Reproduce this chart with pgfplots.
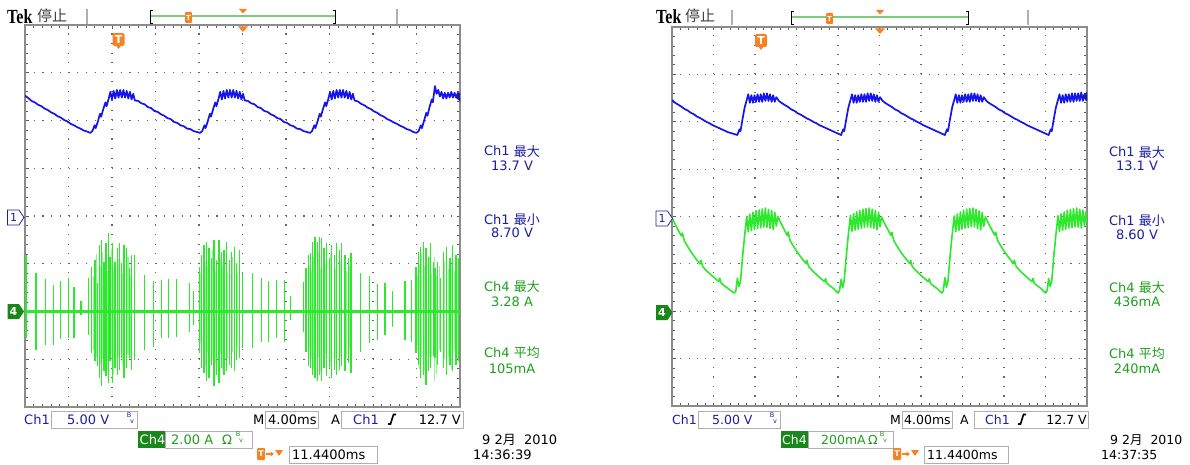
\documentclass[border=0pt]{standalone}
\usepackage{pgfplots}
\pgfplotsset{compat=1.18}
\usepackage{pgfplotstable}
\usepackage{graphicx}
\usepackage{fontspec}
\setmainfont{DejaVu Sans}
\newfontfamily\cjk{Noto Sans CJK SC}
\newfontfamily\tekfont{Liberation Serif}

\definecolor{labblue}{RGB}{30,30,160}
\definecolor{trblue}{RGB}{20,20,235}
\definecolor{trgreen}{RGB}{45,232,45}
\definecolor{ltgreen}{RGB}{150,242,150}
\definecolor{labgreen}{RGB}{30,160,30}
\definecolor{chfour}{RGB}{25,135,25}
\definecolor{tekorange}{RGB}{245,130,35}
\definecolor{bordergray}{RGB}{140,140,140}
\definecolor{boxgray}{RGB}{175,175,175}
\definecolor{recgreen}{RGB}{125,205,125}

\pgfplotsset{
  graticule/.style={
    scale only axis, anchor=south west,
    xmin=0, xmax=40, ymin=-20, ymax=20,
    xtick={0,4,...,40}, ytick={-20,-15,...,20},
    minor x tick num=4, minor y tick num=4,
    xticklabels={}, yticklabels={},
    major tick length=3.5pt, minor tick length=3pt,
    tick style={draw=black!65, line width=0.8pt},
    xmajorgrids, ymajorgrids,
    axis line style={draw=bordergray, line width=2.5pt},
  },
  chfour/.style={scale only axis, anchor=south west, xmin=0, xmax=40, hide axis},
}
\tikzset{
  L/.style={anchor=base, inner sep=0pt, font=\fontsize{13}{15}\selectfont},
  LW/.style={anchor=base west, inner sep=0pt, font=\fontsize{13}{15}\selectfont},
  LE/.style={anchor=base east, inner sep=0pt, font=\fontsize{13}{15}\selectfont},
  RW/.style={anchor=base west, inner sep=0pt, font=\fontsize{12.5}{15}\selectfont},
  RE/.style={anchor=base east, inner sep=0pt, font=\fontsize{12.5}{15}\selectfont},
  tiny/.style={inner sep=0pt, font=\fontsize{6.5}{6.5}\selectfont},
}

% Ch4 spikes of the left screen (ms, A)
\pgfplotstableread{
t top bot
0.10 2.37 -1.12
1.01 1.61 -1.61
1.90 1.37 -1.42
2.61 1.12 -1.40
3.28 1.28 -1.14
3.98 1.42 -1.12
4.51 1.01 -1.12
5.15 0.42 -0.14
5.82 1.40 -0.98
6.13 1.88 -1.75
6.44 2.16 -2.09
6.65 1.19 -2.30
6.84 2.79 -2.79
7.05 3.00 -3.14
7.26 2.09 -2.51
7.45 2.86 -2.72
7.66 3.28 -3.00
7.82 2.30 -2.09
8.06 2.86 -3.00
8.28 2.09 -2.37
8.49 2.65 -2.65
8.67 2.86 -2.44
8.89 2.02 -1.95
9.10 2.79 -2.79
9.35 2.65 -2.37
9.59 1.81 -1.95
9.81 2.37 -2.44
10.05 2.37 -2.02
10.97 1.51 -1.61
11.80 1.28 -1.47
12.57 1.33 -1.12
13.21 1.37 -1.12
13.95 1.37 -1.05
15.11 1.19 -0.84
15.48 0.84 -0.56
16.03 1.88 -1.75
16.24 2.37 -2.37
16.46 2.79 -2.58
16.70 2.93 -2.93
16.92 2.65 -2.79
17.16 2.23 -2.23
17.38 3.00 -3.14
17.62 2.16 -2.65
17.84 3.00 -3.00
18.08 2.51 -2.37
18.30 2.58 -2.65
18.54 2.93 -2.51
18.79 2.16 -2.23
19.00 2.51 -2.37
19.25 2.72 -2.51
19.46 2.02 -2.02
19.71 2.58 -1.95
19.98 1.61 -1.54
20.93 1.61 -1.54
21.76 1.42 -1.26
22.37 1.28 -1.26
23.14 1.33 -1.12
23.84 1.33 -1.26
24.43 0.63 -0.35
25.59 1.23 -0.84
25.84 1.81 -1.68
26.05 2.37 -2.30
26.27 2.44 -2.37
26.45 2.93 -2.65
26.67 3.14 -2.79
26.88 2.93 -2.93
27.06 3.14 -2.65
27.28 3.07 -2.93
27.49 2.65 -2.37
27.74 2.86 -2.72
27.98 2.23 -2.37
28.20 2.79 -2.79
28.44 2.37 -2.44
28.66 2.86 -2.65
28.90 2.58 -2.44
29.12 2.86 -2.30
29.42 2.37 -2.51
29.73 2.23 -2.16
29.97 2.44 -2.58
30.86 1.61 -1.68
31.66 1.47 -1.33
32.43 1.14 -1.19
33.10 1.19 -0.98
33.81 0.84 -0.63
34.94 1.28 -1.19
35.55 1.33 -1.26
35.95 1.88 -1.75
36.17 2.51 -2.23
36.38 2.72 -2.79
36.63 2.93 -2.65
36.87 2.65 -3.07
37.09 2.30 -2.51
37.30 2.86 -2.37
37.55 2.09 -1.88
37.70 1.81 -1.95
37.91 2.09 -2.23
38.22 1.40 -1.68
38.46 2.51 -2.37
38.77 2.72 -2.65
39.08 2.23 -2.23
39.32 2.79 -2.51
39.63 2.37 -2.23
39.87 2.23 -2.09
}\spikes

% fainter spikes between the bright ones
\pgfplotstableread{
t top bot
6.28 1.5 -1.6
6.55 2.4 -1.9
6.95 1.9 -2.2
7.15 2.5 -2.0
7.55 1.7 -2.4
7.92 2.6 -1.8
8.17 1.8 -2.6
8.58 2.2 -1.9
9.00 1.6 -2.2
9.47 2.3 -1.8
9.70 1.5 -2.0
16.12 1.6 -1.3
16.58 2.1 -2.3
16.82 1.9 -1.7
17.27 2.6 -2.0
17.50 1.7 -2.2
17.96 2.2 -1.8
18.18 1.9 -2.4
18.66 1.6 -2.0
19.12 2.3 -1.7
19.58 1.6 -1.5
26.15 1.9 -1.6
26.36 1.7 -2.0
26.56 2.3 -2.4
26.97 2.5 -1.9
27.17 1.8 -2.5
27.62 2.0 -1.8
28.08 2.4 -2.1
28.55 1.8 -2.0
29.00 2.1 -1.9
29.57 1.7 -1.9
29.85 1.9 -1.6
36.05 1.5 -1.4
36.27 2.0 -2.4
36.50 2.4 -1.9
36.75 1.9 -2.5
37.20 2.3 -1.9
37.42 1.6 -1.9
37.62 2.3 -2.9
37.80 1.5 -2.6
38.10 1.9 -1.6
38.60 2.1 -2.0
38.92 1.8 -1.9
39.20 2.0 -2.4
39.50 1.7 -1.6
39.75 2.2 -2.0
}\faint

\begin{document}
\begin{tikzpicture}[x=1pt,y=1pt]
\useasboundingbox (0,0) rectangle (1190,464);
\fill[white] (0,0) rectangle (1190,464);

% ---------------- left screen ----------------
\begin{axis}[graticule, at={(25pt,57pt)}, width=435pt, height=382pt,
  x grid style={draw=black!60, line width=1.1pt, dash pattern=on 1.1pt off 8.45pt},
  y grid style={draw=black!60, line width=1.1pt, dash pattern=on 1.1pt off 7.6pt}]
\addplot[draw=trblue, line width=1.7pt, line join=round] table {
0.0 12.6
0.3 12.35
0.6 12.05
0.9 11.9
1.2 11.65
1.5 11.5
1.8 11.25
2.1 11.1
2.4 10.85
2.7 10.7
3.0 10.45
3.3 10.3
3.6 10.05
3.9 9.9
4.2 9.65
4.5 9.5
4.8 9.3
5.1 9.15
5.4 8.95
5.7 8.85
6.0 8.7
6.2 8.9
6.4 9.5
6.5 9.2
6.7 9.9
6.9 10.7
7.0 10.4
7.2 11.2
7.4 11.9
7.5 11.5
7.7 12.3
7.85 13.0
8.0 12.2
8.15 13.1
8.3 12.3
8.45 13.2
8.6 12.4
8.75 13.2
8.9 12.4
9.05 13.2
9.2 12.4
9.35 13.1
9.5 12.3
9.65 13.0
9.8 12.2
9.95 12.8
10.1 12.1
10.4 12.05
10.7 11.8
11.0 11.7
11.3 11.4
11.6 11.3
11.9 11.0
12.2 10.9
12.5 10.65
12.8 10.5
13.1 10.25
13.4 10.15
13.7 9.85
14.0 9.75
14.3 9.5
14.6 9.4
14.9 9.15
15.2 9.1
15.5 8.9
15.8 8.8
16.1 8.7
16.3 8.9
16.5 9.5
16.6 9.2
16.8 9.9
17.0 10.7
17.1 10.4
17.3 11.2
17.5 11.9
17.6 11.5
17.8 12.3
17.95 13.0
18.1 12.2
18.25 13.1
18.4 12.3
18.55 13.2
18.7 12.4
18.85 13.2
19.0 12.4
19.15 13.2
19.3 12.4
19.45 13.1
19.6 12.3
19.75 13.0
19.9 12.2
20.05 12.8
20.2 12.1
20.5 12.05
20.8 11.8
21.1 11.7
21.4 11.4
21.7 11.3
22.0 11.0
22.3 10.9
22.6 10.65
22.9 10.5
23.2 10.25
23.5 10.15
23.8 9.85
24.1 9.75
24.4 9.5
24.7 9.4
25.0 9.15
25.3 9.1
25.6 8.9
25.9 8.8
26.2 8.7
26.4 8.9
26.6 9.5
26.7 9.2
26.9 9.9
27.1 10.7
27.2 10.4
27.4 11.2
27.6 11.9
27.7 11.5
27.9 12.3
28.05 13.0
28.2 12.2
28.35 13.1
28.5 12.3
28.65 13.2
28.8 12.4
28.95 13.2
29.1 12.4
29.25 13.2
29.4 12.4
29.55 13.1
29.7 12.3
29.85 13.0
30.0 12.2
30.15 12.8
30.3 12.1
30.6 12.0
30.9 11.75
31.2 11.6
31.5 11.35
31.8 11.2
32.1 10.95
32.4 10.8
32.7 10.55
33.0 10.4
33.3 10.15
33.6 10.0
33.9 9.8
34.2 9.65
34.5 9.45
34.8 9.3
35.1 9.1
35.4 9.0
35.7 8.8
36.0 8.7
36.2 8.9
36.4 9.5
36.5 9.2
36.7 10.0
36.9 10.8
37.0 10.5
37.2 11.4
37.4 12.2
37.5 11.9
37.7 13.6
37.85 12.8
38.0 13.2
38.15 12.5
38.3 13.0
38.45 12.3
38.6 12.9
38.75 12.3
38.9 12.9
39.05 12.4
39.2 13.0
39.35 12.4
39.5 12.9
39.65 12.4
39.8 12.9
40.0 12.6
};
\end{axis}
\begin{axis}[chfour, at={(25pt,57pt)}, width=435pt, height=382pt, ymin=-4, ymax=12]
\addplot[ycomb, draw=ltgreen, line width=1.1pt] table[x=t, y=top] {\faint};
\addplot[ycomb, draw=ltgreen, line width=1.1pt] table[x=t, y=bot] {\faint};
\addplot[ycomb, draw=trgreen, line width=1.2pt] table[x=t, y=top] {\spikes};
\addplot[ycomb, draw=trgreen, line width=1.2pt] table[x=t, y=bot] {\spikes};
\addplot[draw=trgreen, line width=3.5pt] coordinates {(0,0) (40,0)};
\end{axis}

% ---------------- right screen ----------------
\begin{axis}[graticule, at={(672pt,58pt)}, width=415pt, height=379pt,
  x grid style={draw=black!60, line width=1.1pt, dash pattern=on 1.1pt off 8.375pt},
  y grid style={draw=black!60, line width=1.1pt, dash pattern=on 1.1pt off 7.2pt}]
\addplot[draw=trblue, line width=1.7pt, line join=round] table {
0.0 12.3
0.3 12.0
0.6 11.8
0.9 11.6
1.2 11.35
1.5 11.2
1.8 10.95
2.1 10.8
2.4 10.55
2.7 10.4
3.0 10.2
3.3 10.0
3.6 9.85
3.9 9.65
4.2 9.5
4.5 9.35
4.8 9.2
5.1 9.05
5.4 8.9
5.7 8.8
6.0 8.7
6.3 8.6
6.5 9.2
6.6 9.0
6.8 10.3
7.0 11.5
7.2 12.3
7.35 12.9
7.5 12.0
7.65 12.8
7.8 12.0
7.95 12.8
8.1 12.1
8.25 12.9
8.4 12.1
8.55 12.9
8.7 12.1
8.85 13.0
9.0 12.2
9.15 13.0
9.3 12.2
9.45 12.9
9.6 12.1
9.75 12.8
9.9 12.1
10.05 12.6
10.3 12.2
10.6 11.95
10.9 11.75
11.2 11.55
11.5 11.3
11.8 11.15
12.1 10.9
12.4 10.75
12.7 10.55
13.0 10.35
13.3 10.2
13.6 10.0
13.9 9.85
14.2 9.65
14.5 9.5
14.8 9.35
15.1 9.2
15.4 9.05
15.7 8.9
16.0 8.75
16.3 8.6
16.5 9.2
16.6 9.0
16.8 10.3
17.0 11.5
17.2 12.3
17.35 12.9
17.5 12.0
17.65 12.8
17.8 12.0
17.95 12.8
18.1 12.1
18.25 12.9
18.4 12.1
18.55 12.9
18.7 12.1
18.85 13.0
19.0 12.2
19.15 13.0
19.3 12.2
19.45 12.9
19.6 12.1
19.75 12.8
19.9 12.1
20.05 12.6
20.3 12.2
20.6 11.95
20.9 11.75
21.2 11.55
21.5 11.3
21.8 11.15
22.1 10.9
22.4 10.75
22.7 10.55
23.0 10.35
23.3 10.2
23.6 10.0
23.9 9.85
24.2 9.65
24.5 9.5
24.8 9.35
25.1 9.2
25.4 9.05
25.7 8.9
26.0 8.75
26.3 8.6
26.5 9.2
26.6 9.0
26.8 10.3
27.0 11.5
27.2 12.3
27.35 12.9
27.5 12.0
27.65 12.8
27.8 12.0
27.95 12.8
28.1 12.1
28.25 12.9
28.4 12.1
28.55 12.9
28.7 12.1
28.85 13.0
29.0 12.2
29.15 13.0
29.3 12.2
29.45 12.9
29.6 12.1
29.75 12.8
29.9 12.1
30.05 12.6
30.3 12.2
30.6 11.95
30.9 11.75
31.2 11.55
31.5 11.3
31.8 11.15
32.1 10.9
32.4 10.75
32.7 10.55
33.0 10.35
33.3 10.2
33.6 10.0
33.9 9.85
34.2 9.65
34.5 9.5
34.8 9.35
35.1 9.2
35.4 9.05
35.7 8.9
36.0 8.75
36.3 8.6
36.5 9.2
36.6 9.0
36.8 10.3
37.0 11.5
37.2 12.3
37.35 12.9
37.5 12.0
37.65 12.8
37.8 12.0
37.95 12.9
38.1 12.1
38.25 12.9
38.4 12.1
38.55 13.0
38.7 12.1
38.85 13.0
39.0 12.2
39.15 13.0
39.3 12.2
39.45 13.1
39.6 12.2
39.75 12.9
39.9 12.3
40.0 12.6
};
\end{axis}
\begin{axis}[chfour, at={(672pt,58pt)}, width=415pt, height=379pt, ymin=-400, ymax=1200]
\addplot[draw=trgreen, line width=1.6pt, line join=round] table {
0.0 395
0.3 368
0.6 342
0.9 318
1.0 330
1.1 312
1.2 296
1.5 274
1.8 253
2.1 234
2.4 216
2.7 200
2.8 215
2.9 197
3.0 186
3.3 172
3.6 160
3.9 148
4.2 137
4.5 126
4.6 140
4.7 122
4.8 116
5.1 106
5.4 96
5.7 86
6.0 77
6.15 85
6.3 140
6.45 105
6.6 125
6.8 230
7.0 320
7.2 400
7.35 335
7.5 410
7.65 340
7.8 418
7.95 345
8.1 425
8.25 350
8.4 428
8.55 352
8.7 432
8.85 355
9.0 436
9.15 355
9.3 430
9.45 350
9.6 425
9.75 345
9.9 418
10.05 360
10.2 400
10.5 372
10.8 346
11.1 320
11.2 335
11.3 312
11.4 297
11.7 275
12.0 254
12.3 236
12.6 218
12.9 202
13.0 215
13.1 198
13.2 187
13.5 173
13.8 160
14.1 148
14.4 136
14.7 125
14.8 138
14.9 120
15.0 115
15.3 105
15.6 95
15.8 85
16.0 77
16.15 88
16.3 135
16.45 100
16.6 130
16.8 235
17.0 325
17.2 405
17.35 338
17.5 412
17.65 342
17.8 420
17.95 346
18.1 426
18.25 350
18.4 430
18.55 354
18.7 433
18.85 356
19.0 436
19.15 354
19.3 431
19.45 350
19.6 426
19.75 344
19.9 418
20.05 358
20.2 398
20.5 370
20.8 345
21.1 320
21.2 333
21.3 311
21.4 296
21.7 274
22.0 253
22.3 235
22.6 218
22.9 202
23.0 214
23.1 196
23.2 186
23.5 172
23.8 160
24.1 147
24.4 136
24.7 125
24.8 137
24.9 119
25.0 114
25.3 104
25.6 94
25.8 85
26.0 77
26.15 86
26.3 142
26.45 102
26.6 128
26.8 232
27.0 322
27.2 402
27.35 336
27.5 411
27.65 341
27.8 419
27.95 347
28.1 427
28.25 351
28.4 431
28.55 353
28.7 434
28.85 357
29.0 436
29.15 356
29.3 430
29.45 349
29.6 424
29.75 343
29.9 417
30.05 359
30.2 399
30.5 371
30.8 346
31.1 321
31.2 334
31.3 312
31.4 297
31.7 275
32.0 254
32.3 236
32.6 218
32.9 202
33.0 216
33.1 197
33.2 187
33.5 173
33.8 160
34.1 148
34.4 136
34.7 125
34.8 139
34.9 120
35.0 115
35.3 105
35.6 95
35.8 85
36.0 77
36.15 87
36.3 138
36.45 104
36.6 127
36.8 233
37.0 322
37.2 403
37.35 337
37.5 411
37.65 341
37.8 419
37.95 346
38.1 426
38.25 351
38.4 429
38.55 353
38.7 433
38.85 356
39.0 436
39.15 355
39.3 431
39.45 352
39.6 427
39.75 358
39.9 420
40.0 380
};
\end{axis}

% ---------------- screen furniture (image pixel coordinates, y down) ----------------
\begin{scope}[shift={(0,464)}, y=-1pt]
% left top bar
\node[anchor=base west, inner sep=0pt] at (7,23.5) {\scalebox{0.8}[1]{\fontsize{20}{20}\selectfont\tekfont\bfseries Tek}};
\node[anchor=base west, inner sep=0pt, text=black!75] at (37,22) {\fontsize{15}{15}\selectfont\cjk 停止};
\draw[boxgray, line width=1.5pt] (87,9)--(87,24) (397,9)--(397,24);
\draw[recgreen, line width=2.5pt] (150,16)--(335,16);
\draw[black, line width=0.8pt] (152.5,10)--(150,10)--(150,23)--(152.5,23) (332.5,10)--(335,10)--(335,23)--(332.5,23);
\fill[tekorange, rounded corners=1pt] (185,12) rectangle (192,23);
\node[tiny, text=white, font=\fontsize{7}{7}\selectfont\bfseries] at (188.5,17.5) {T};
\fill[tekorange] (239,9)--(247,9)--(243,13.5)--cycle;
\fill[tekorange] (238,26.5)--(248,26.5)--(243,32)--cycle;
\fill[tekorange, rounded corners=2pt] (112.5,33) rectangle (124.5,46);
\fill[tekorange] (115.5,45)--(121.5,45)--(118.5,49)--cycle;
\node[inner sep=0pt, text=white, font=\fontsize{11}{11}\selectfont\bfseries] at (118.5,39.5) {T};
% left channel markers
\draw[labblue, fill=white, line width=0.8pt] (7.5,210)--(19,210)--(24,217.5)--(19,225)--(7.5,225)--cycle;
\node[inner sep=0pt, text=labblue, font=\fontsize{11}{11}\selectfont] at (13.5,217.5) {1};
\fill[chfour] (7.5,304)--(19,304)--(24,311.5)--(19,319)--(7.5,319)--cycle;
\node[inner sep=0pt, text=white, font=\fontsize{11}{11}\selectfont\bfseries] at (13.5,311.5) {4};
\fill[labblue] (460,92.5)--(460,101.5)--(455,97)--cycle;
% left readouts
\node[L, text=labblue] at (512,156) {Ch1 {\cjk 最大}};
\node[L, text=labblue] at (512,171) {13.7 V};
\node[L, text=labblue] at (512,224) {Ch1 {\cjk 最小}};
\node[L, text=labblue] at (512,238) {8.70 V};
\node[L, text=labgreen] at (512,291) {Ch4 {\cjk 最大}};
\node[L, text=labgreen] at (512,306) {3.28 A};
\node[L, text=labgreen] at (512,357) {Ch4 {\cjk 平均}};
\node[L, text=labgreen] at (512,373) {105mA};
% left bottom rows
\node[LW, text=labblue] at (24,424) {Ch1};
\draw[boxgray, line width=1pt] (51,411) rectangle (137,428);
\node[LW, text=labblue] at (67,424) {5.00 V};
\node[tiny, text=labblue] at (129,415.5) {B};
\node[tiny, text=labblue] at (132,421.5) {v};
\node[LW] at (253,424) {M};
\draw[boxgray, line width=1pt] (265,411) rectangle (318,428);
\node[LW] at (268,424) {4.00ms};
\node[LW] at (331,424) {A};
\draw[boxgray, line width=1pt] (341,411) rectangle (463,428);
\node[LW, text=labblue] at (353,424) {Ch1};
\draw[black, line width=1.6pt] (388,424)--(390.5,424)--(393.5,414.5)--(396,414.5);
\node[LE] at (461,424) {12.7 V};
\fill[chfour] (138,431) rectangle (165,448);
\node[LW, text=white] at (139.5,444) {Ch4};
\draw[boxgray, line width=1pt] (165,431) rectangle (252,448);
\node[LW, text=labgreen] at (171,444) {2.00 A};
\node[LW, text=labgreen] at (222,444) {Ω};
\node[tiny, text=labgreen] at (238,434.5) {B};
\node[tiny, text=labgreen] at (241,440.5) {v};
\node[LW] at (482,444) {9 2{\cjk 月}\ \ 2010};
\fill[tekorange, rounded corners=1pt] (257,448) rectangle (265,460);
\node[inner sep=0pt, text=white, font=\fontsize{8}{8}\selectfont\bfseries] at (261,454) {T};
\draw[tekorange, line width=1.2pt] (266,454)--(271,454);
\fill[tekorange] (270.5,451.5)--(274,454)--(270.5,456.5)--cycle;
\fill[tekorange] (275,450)--(283,450)--(279,456)--cycle;
\draw[boxgray, line width=1pt] (289,446) rectangle (377,463);
\node[LW] at (292,459) {11.4400ms};
\node[LW] at (473,459) {14:36:39};

% right top bar
\node[anchor=base west, inner sep=0pt] at (656,23.5) {\scalebox{0.8}[1]{\fontsize{20}{20}\selectfont\tekfont\bfseries Tek}};
\node[anchor=base west, inner sep=0pt, text=black!75] at (685,22) {\fontsize{15}{15}\selectfont\cjk 停止};
\draw[boxgray, line width=1.5pt] (732,10)--(732,25) (1028,10)--(1028,25);
\draw[recgreen, line width=2.5pt] (791,17)--(968,17);
\draw[black, line width=0.8pt] (793.5,11)--(791,11)--(791,24)--(793.5,24) (965.5,11)--(968,11)--(968,24)--(965.5,24);
\fill[tekorange, rounded corners=1pt] (826,13) rectangle (833,24);
\node[tiny, text=white, font=\fontsize{7}{7}\selectfont\bfseries] at (829.5,18.5) {T};
\fill[tekorange] (876,10)--(884,10)--(880,14.5)--cycle;
\fill[tekorange] (875,28.5)--(885,28.5)--(880,34)--cycle;
\fill[tekorange, rounded corners=2pt] (755,34) rectangle (767,47);
\fill[tekorange] (758,46)--(764,46)--(761,50)--cycle;
\node[inner sep=0pt, text=white, font=\fontsize{11}{11}\selectfont\bfseries] at (761,40.5) {T};
% right channel markers
\draw[labblue, fill=white, line width=0.8pt] (656,211)--(667.5,211)--(672.5,218.5)--(667.5,226)--(656,226)--cycle;
\node[inner sep=0pt, text=labblue, font=\fontsize{11}{11}\selectfont] at (662,218.5) {1};
\fill[chfour] (656,305)--(667.5,305)--(672.5,312.5)--(667.5,320)--(656,320)--cycle;
\node[inner sep=0pt, text=white, font=\fontsize{11}{11}\selectfont\bfseries] at (662,312.5) {4};
\fill[labblue] (1087,92)--(1087,101)--(1082,96.5)--cycle;
% right readouts
\node[L, text=labblue] at (1137,157) {Ch1 {\cjk 最大}};
\node[L, text=labblue] at (1137,171) {13.1 V};
\node[L, text=labblue] at (1137,225) {Ch1 {\cjk 最小}};
\node[L, text=labblue] at (1137,239) {8.60 V};
\node[L, text=labgreen] at (1137,292) {Ch4 {\cjk 最大}};
\node[L, text=labgreen] at (1137,306) {436mA};
\node[L, text=labgreen] at (1137,358) {Ch4 {\cjk 平均}};
\node[L, text=labgreen] at (1137,373) {240mA};
% right bottom rows
\node[RW, text=labblue] at (672,424) {Ch1};
\draw[boxgray, line width=1pt] (698,411) rectangle (780,428);
\node[RW, text=labblue] at (712,424) {5.00 V};
\node[tiny, text=labblue] at (772,415.5) {B};
\node[tiny, text=labblue] at (775,421.5) {v};
\node[RW] at (890,424) {M};
\draw[boxgray, line width=1pt] (902,411) rectangle (952,428);
\node[RW] at (904,424) {4.00ms};
\node[RW] at (960,424) {A};
\draw[boxgray, line width=1pt] (974,411) rectangle (1088,428);
\node[RW, text=labblue] at (985,424) {Ch1};
\draw[black, line width=1.6pt] (1018,424)--(1020.5,424)--(1023.5,414.5)--(1026,414.5);
\node[RE] at (1087,424) {12.7 V};
\fill[chfour] (781,431) rectangle (808,448);
\node[RW, text=white] at (782,444) {Ch4};
\draw[boxgray, line width=1pt] (808,431) rectangle (893,448);
\node[RW, text=labgreen] at (821,444) {200mA};
\node[RW, text=labgreen] at (868,444) {Ω};
\node[tiny, text=labgreen] at (882,434.5) {B};
\node[tiny, text=labgreen] at (885,440.5) {v};
\node[RW] at (1110,444) {9 2{\cjk 月}\ \ 2010};
\fill[tekorange, rounded corners=1pt] (893,448) rectangle (901,460);
\node[inner sep=0pt, text=white, font=\fontsize{8}{8}\selectfont\bfseries] at (897,454) {T};
\draw[tekorange, line width=1.2pt] (902,454)--(907,454);
\fill[tekorange] (906.5,451.5)--(910,454)--(906.5,456.5)--cycle;
\fill[tekorange] (911,450)--(919,450)--(915,456)--cycle;
\draw[boxgray, line width=1pt] (924,446) rectangle (1008,463);
\node[RW] at (927,459) {11.4400ms};
\node[RW] at (1101,459) {14:37:35};
\end{scope}
\end{tikzpicture}
\end{document}
